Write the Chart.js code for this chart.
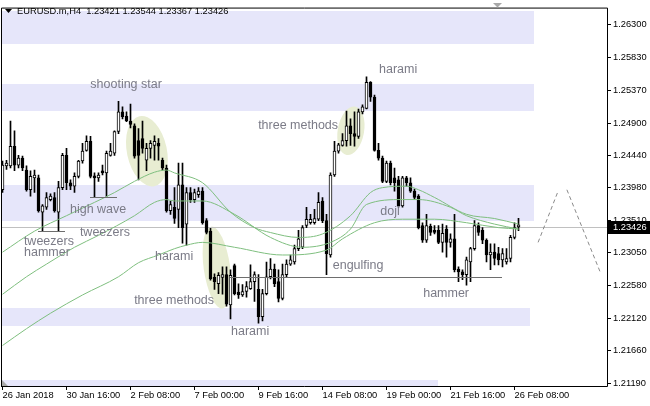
<!DOCTYPE html>
<html><head><meta charset="utf-8">
<script src="https://cdn.jsdelivr.net/npm/chart.js@4.4.0/dist/chart.umd.min.js"></script>
<style>html,body{margin:0;padding:0;background:#fff}canvas{display:block}</style>
</head><body>
<canvas id="c" width="650" height="406"></canvas>
<script>
const symbolTitle = "EURUSD.m,H4";
const tickLabels = ["26 Jan 2018","30 Jan 16:00","2 Feb 08:00","7 Feb 00:00","9 Feb 16:00","14 Feb 08:00","19 Feb 00:00","21 Feb 16:00","26 Feb 08:00"];
const priceTicks = [1.2119,1.2166,1.2212,1.2258,1.2305,1.2351,1.2398,1.2444,1.2490,1.2537,1.2583,1.2630];

const open = [1.2395,1.2429,1.2429,1.2457,1.2430,1.2440,1.2423,1.2395,1.2412,1.2412,
1.2363,1.2370,1.2381,1.2384,1.2363,1.2398,1.2444,1.2405,1.2400,1.2414,
1.2436,1.2451,1.2464,1.2414,1.2412,1.2422,1.2419,1.2444,1.2447,1.2478,
1.2506,1.2500,1.2493,1.2486,1.2465,1.2468,1.2437,1.2454,1.2458,1.2461,
1.2437,1.2426,1.2365,1.2370,1.2367,1.2402,1.2346,1.2391,1.2381,1.2388,
1.2393,1.2351,1.2336,1.2270,1.2261,1.2270,1.2274,1.2231,1.2287,1.2249,
1.2245,1.2250,1.2254,1.2264,1.2253,1.2214,1.2247,1.2271,1.2282,1.2264,
1.2240,1.2274,1.2289,1.2292,1.2311,1.2313,1.2344,1.2348,1.2348,1.2353,
1.2379,1.2351,1.2302,1.2416,1.2450,1.2458,1.2465,1.2486,1.2475,1.2471,
1.2506,1.2511,1.2548,1.2527,1.2451,1.2440,1.2407,1.2433,1.2412,1.2409,
1.2372,1.2412,1.2405,1.2393,1.2386,1.2344,1.2323,1.2343,1.2337,1.2337,
1.2320,1.2339,1.2320,1.2325,1.2282,1.2278,1.2274,1.2292,1.2311,1.2344,
1.2337,1.2323,1.2302,1.2306,1.2304,1.2295,1.2292,1.2297,1.2327,1.23421];
const high = [1.2436,1.2437,1.2493,1.2479,1.2444,1.2443,1.2429,1.2422,1.2423,1.2416,
1.2374,1.2391,1.2389,1.2391,1.2407,1.2447,1.2454,1.2409,1.2419,1.2437,
1.2461,1.2472,1.2471,1.2419,1.2419,1.2430,1.2450,1.2461,1.2479,1.2521,
1.2513,1.2506,1.2517,1.2489,1.2482,1.2493,1.2461,1.2465,1.2472,1.2468,
1.2440,1.2430,1.2379,1.2398,1.2433,1.2433,1.2398,1.2398,1.2396,1.2398,
1.2398,1.2354,1.2340,1.2275,1.2277,1.2285,1.2285,1.2281,1.2289,1.2261,
1.2260,1.2264,1.2288,1.2278,1.2274,1.2253,1.2292,1.2297,1.2289,1.2281,
1.2289,1.2295,1.2302,1.2316,1.2337,1.2344,1.2370,1.2360,1.2367,1.2391,
1.2384,1.2360,1.2419,1.2464,1.2461,1.2475,1.2507,1.2496,1.2506,1.2510,
1.2516,1.2556,1.2549,1.2530,1.2461,1.2443,1.2436,1.2436,1.2426,1.2414,
1.2414,1.2414,1.2412,1.2396,1.2388,1.2348,1.2360,1.2346,1.2344,1.2344,
1.2346,1.2344,1.2332,1.2360,1.2285,1.2281,1.2299,1.2313,1.2351,1.2348,
1.2341,1.2325,1.2318,1.2318,1.2313,1.2311,1.2311,1.2330,1.2348,1.23544];
const low = [1.2391,1.2424,1.2426,1.2422,1.2426,1.2422,1.2393,1.2386,1.2391,1.2363,
1.2336,1.2367,1.2379,1.2363,1.2336,1.2395,1.2395,1.2395,1.2391,1.2412,
1.2433,1.2450,1.2412,1.2384,1.2407,1.2416,1.2384,1.2443,1.2444,1.2475,
1.2496,1.2492,1.2483,1.2440,1.2409,1.2447,1.2422,1.2440,1.2437,1.2437,
1.2423,1.2363,1.2360,1.2347,1.2341,1.2319,1.2316,1.2377,1.2377,1.2384,
1.2346,1.2332,1.2266,1.2253,1.2247,1.2246,1.2229,1.2211,1.2245,1.2240,
1.2243,1.2242,1.2253,1.2236,1.2205,1.2208,1.2245,1.2268,1.2257,1.2235,
1.2238,1.2271,1.2287,1.2289,1.2308,1.2311,1.2341,1.2346,1.2346,1.2351,
1.2348,1.2274,1.2299,1.2414,1.2447,1.2457,1.2457,1.2458,1.2457,1.2468,
1.2503,1.2510,1.2521,1.2450,1.2437,1.2405,1.2405,1.2402,1.2393,1.2370,
1.2370,1.2400,1.2391,1.2381,1.2339,1.2320,1.2320,1.2330,1.2332,1.2318,
1.2306,1.2299,1.2313,1.2278,1.2264,1.2267,1.2259,1.2264,1.2309,1.2330,
1.2318,1.2292,1.2281,1.2288,1.2288,1.2285,1.2289,1.2292,1.2325,1.23367];
const close = [1.2430,1.2433,1.2457,1.2430,1.2440,1.2426,1.2395,1.2414,1.2416,1.2365,
1.2372,1.2384,1.2386,1.2365,1.2398,1.2444,1.2405,1.2400,1.2414,1.2436,
1.2450,1.2464,1.2414,1.2412,1.2416,1.2419,1.2447,1.2450,1.2478,1.2506,
1.2499,1.2493,1.2488,1.2443,1.2444,1.2454,1.2454,1.2461,1.2464,1.2457,
1.2426,1.2365,1.2374,1.2354,1.2402,1.2341,1.2391,1.2381,1.2391,1.2393,
1.2348,1.2334,1.2268,1.2264,1.2273,1.2274,1.2232,1.2273,1.2247,1.2245,
1.2250,1.2257,1.2264,1.2274,1.2214,1.2247,1.2271,1.2282,1.2261,1.2240,
1.2274,1.2289,1.2295,1.2311,1.2325,1.2341,1.2353,1.2353,1.2354,1.2377,
1.2351,1.2304,1.2416,1.2450,1.2459,1.2465,1.2486,1.2475,1.2471,1.2506,
1.2513,1.2548,1.2527,1.2451,1.2440,1.2407,1.2433,1.2405,1.2405,1.2372,
1.2412,1.2405,1.2393,1.2384,1.2341,1.2323,1.2344,1.2334,1.2334,1.2320,
1.2333,1.2320,1.2325,1.2281,1.2278,1.2274,1.2295,1.2311,1.2344,1.2334,
1.2323,1.2302,1.2306,1.2297,1.2295,1.2304,1.2297,1.2327,1.2341,1.23426];

// moving averages: [bar index, price]
const maFast = [[0,1.2306],[8,1.2336],[16,1.2358],[23,1.2377],[28,1.2391],[33,1.2407],[38,1.2420],[41,1.2423],[43,1.2419],[50,1.2405],[57,1.2363],[63,1.2341],[67,1.2334],[74,1.2327],[80,1.2332],[87,1.2358],[92,1.2391],[95,1.2398],[101,1.2400],[104,1.2395],[108,1.2384],[116,1.2360],[123,1.2354],[129,1.2346]];
const maMid = [[0,1.2246],[6,1.2271],[11,1.2289],[18,1.2313],[24,1.2330],[33,1.2358],[38,1.2377],[41,1.2381],[43,1.2379],[50,1.2379],[58,1.2360],[67,1.2327],[75,1.2313],[82,1.2320],[87,1.2339],[91,1.2374],[100,1.2381],[104,1.2381],[112,1.2370],[116,1.2358],[123,1.2346],[129,1.2339]];
const maSlow = [[0,1.2173],[6,1.2197],[12,1.2219],[20,1.2245],[29,1.2271],[34,1.2291],[39,1.2302],[43,1.2311],[46,1.2316],[50,1.2320],[58,1.2313],[70,1.2302],[81,1.2309],[85,1.2325],[93,1.2348],[100,1.2353],[108,1.2353],[116,1.2348],[124,1.2341],[129,1.2339]];

// chart objects in data coordinates (bar index, price)
const zones = [
  {from:-1, to:132.9, top:1.2650, bottom:1.2603},
  {from:-1, to:132.9, top:1.2545, bottom:1.2507},
  {from:-1, to:132.9, top:1.2402, bottom:1.2351},
  {from:-1, to:131.9, top:1.2227, bottom:1.2201},
  {from:-1, to:108.9, top:1.2124, bottom:1.2100}
];
const highlights = [
  {x:36.1, y:1.2450, rx:5.0, ry:0.0051, rot:-12},
  {x:53.6, y:1.2284, rx:3.3, ry:0.0059, rot:-8},
  {x:87.1, y:1.2479, rx:3.3, ry:0.0035, rot:10}
];
const levels = [
  {from:8.9, to:15.6, y:1.2336},
  {from:21.9, to:28.6, y:1.2384},
  {from:56.9, to:124.9, y:1.2270}
];
const projections = [
  {x0:133.9, y0:1.2320, x1:138.9, y1:1.2393},
  {x0:141.1, y0:1.2395, x1:149.4, y1:1.2278}
];
const patternLabels = [
  {text:'shooting star', x:30.9, y:1.2544},
  {text:'high wave', x:23.9, y:1.2366},
  {text:'tweezers', x:25.6, y:1.2333},
  {text:'tweezers', x:11.6, y:1.2320},
  {text:'hammer', x:11.1, y:1.2304},
  {text:'harami', x:42.9, y:1.2299},
  {text:'three methods', x:42.9, y:1.2236},
  {text:'harami', x:61.9, y:1.2191},
  {text:'three methods', x:73.9, y:1.2485},
  {text:'harami', x:98.9, y:1.2565},
  {text:'doji', x:96.9, y:1.2363},
  {text:'engulfing', x:88.9, y:1.2285},
  {text:'hammer', x:110.9, y:1.2245}
];

const FONT = '"Liberation Sans", Arial, sans-serif';
const last = close.length - 1;
const idx = open.map((_, i) => i);

const objects = {
  id: 'objects',
  beforeDatasetsDraw(chart) {
    const {ctx, chartArea: a, scales: {x, y}} = chart;
    ctx.save();
    ctx.beginPath(); ctx.rect(a.left, a.top, a.right - a.left, a.bottom - a.top); ctx.clip();
    ctx.fillStyle = '#e6e6fa';
    zones.forEach(z => {
      const x0 = Math.round(x.getPixelForValue(z.from)), x1 = Math.round(x.getPixelForValue(z.to));
      const y0 = Math.round(y.getPixelForValue(z.top)), y1 = Math.round(y.getPixelForValue(z.bottom));
      ctx.fillRect(x0, y0, x1 - x0, y1 - y0);
    });
    const pxBar = x.getPixelForValue(1) - x.getPixelForValue(0);
    ctx.fillStyle = '#e8edd2';
    highlights.forEach(e => {
      const cx = x.getPixelForValue(e.x), cy = y.getPixelForValue(e.y);
      const ry = Math.abs(y.getPixelForValue(e.y + e.ry) - cy);
      ctx.beginPath();
      ctx.ellipse(cx, cy, e.rx * pxBar, ry, e.rot * Math.PI / 180, 0, Math.PI * 2);
      ctx.fill();
    });
    const py = Math.round(y.getPixelForValue(close[last])) + 0.5;
    ctx.strokeStyle = '#c0c0c0'; ctx.lineWidth = 1;
    ctx.beginPath(); ctx.moveTo(a.left, py); ctx.lineTo(a.right, py); ctx.stroke();
    ctx.restore();
  },
  afterDatasetsDraw(chart) {
    const {ctx, chartArea: a, scales: {x, y}} = chart;
    ctx.save();
    ctx.beginPath(); ctx.rect(a.left, a.top, a.right - a.left, a.bottom - a.top); ctx.clip();
    ctx.strokeStyle = '#6e6e6e'; ctx.lineWidth = 1;
    levels.forEach(l => {
      const py = Math.round(y.getPixelForValue(l.y)) + 0.5;
      ctx.beginPath(); ctx.moveTo(Math.round(x.getPixelForValue(l.from)), py);
      ctx.lineTo(Math.round(x.getPixelForValue(l.to)), py); ctx.stroke();
    });
    ctx.strokeStyle = '#8a8a8a'; ctx.setLineDash([4, 3]);
    projections.forEach(p => {
      ctx.beginPath(); ctx.moveTo(x.getPixelForValue(p.x0), y.getPixelForValue(p.y0));
      ctx.lineTo(x.getPixelForValue(p.x1), y.getPixelForValue(p.y1)); ctx.stroke();
    });
    ctx.setLineDash([]);
    ctx.fillStyle = '#7b7b87'; ctx.font = '12.5px ' + FONT;
    ctx.textAlign = 'center'; ctx.textBaseline = 'middle';
    patternLabels.forEach(t => ctx.fillText(t.text, x.getPixelForValue(t.x), y.getPixelForValue(t.y) - 1));
    ctx.restore();
  },
  afterDraw(chart) {
    const {ctx, chartArea: a, scales: {y}} = chart;
    ctx.save();
    ctx.strokeStyle = '#000'; ctx.lineWidth = 1;
    ctx.beginPath();
    ctx.moveTo(a.left + 0.5, a.bottom + 1); ctx.lineTo(a.left + 0.5, a.top + 0.5);
    ctx.lineTo(a.right + 0.5, a.top + 0.5); ctx.lineTo(a.right + 0.5, a.bottom + 0.5);
    ctx.lineTo(a.left, a.bottom + 0.5);
    ctx.stroke();
    // scroll markers
    ctx.fillStyle = '#a8a8a8';
    ctx.beginPath(); ctx.moveTo(493, 3); ctx.lineTo(502, 3); ctx.lineTo(497.5, 7.5); ctx.closePath(); ctx.fill();
    ctx.beginPath(); ctx.moveTo(2, 380); ctx.lineTo(2, 386); ctx.lineTo(8, 386); ctx.closePath(); ctx.fill();
    // title
    ctx.fillStyle = '#000';
    ctx.beginPath(); ctx.moveTo(5, 9); ctx.lineTo(12, 9); ctx.lineTo(8.5, 13); ctx.closePath(); ctx.fill();
    ctx.font = '9.3px ' + FONT; ctx.textAlign = 'left'; ctx.textBaseline = 'alphabetic';
    ctx.fillText(symbolTitle + '  ' + [open[last], high[last], low[last], close[last]].map(v => v.toFixed(5)).join(' '), 17, 14);
    // current price box
    const py = Math.round(y.getPixelForValue(close[last]));
    ctx.fillStyle = '#000'; ctx.fillRect(a.right + 1, py - 6, 650 - a.right - 1, 13);
    ctx.fillStyle = '#fff'; ctx.textBaseline = 'middle';
    ctx.fillText(close[last].toFixed(5), a.right + 6, py + 0.5);
    ctx.restore();
  }
};

new Chart(document.getElementById('c'), {
  type: 'bar',
  data: {
    datasets: [
      {type: 'line', data: maFast.map(([x, y]) => ({x, y})), borderColor: '#7fbf7f', borderWidth: 1, pointRadius: 0, cubicInterpolationMode: 'monotone', order: 0},
      {type: 'line', data: maMid.map(([x, y]) => ({x, y})), borderColor: '#7fbf7f', borderWidth: 1, pointRadius: 0, cubicInterpolationMode: 'monotone', order: 0},
      {type: 'line', data: maSlow.map(([x, y]) => ({x, y})), borderColor: '#7fbf7f', borderWidth: 1, pointRadius: 0, cubicInterpolationMode: 'monotone', order: 0},
      {data: idx.map(i => ({x: i, y: [open[i], close[i]]})), barThickness: 3, grouped: false, minBarLength: 2,
       backgroundColor: c => (close[c.dataIndex] >= open[c.dataIndex] ? '#ffffff' : '#000000'),
       borderColor: '#000', borderWidth: 1, borderSkipped: false, order: 1},
      {data: idx.map(i => ({x: i, y: [low[i], high[i]]})), barThickness: 1, grouped: false,
       backgroundColor: '#000', borderWidth: 0, order: 2}
    ]
  },
  options: {
    responsive: false, animation: false, devicePixelRatio: 1,
    layout: {padding: {left: 1, top: 2, right: 0, bottom: 0}},
    plugins: {legend: {display: false}, tooltip: {enabled: false}},
    scales: {
      x: {
        type: 'linear', min: -0.375, max: 151.125, bounds: 'data', offset: false, position: 'bottom',
        grid: {display: true, drawOnChartArea: false, drawTicks: true, tickLength: 4, color: '#000', offset: false},
        border: {display: false},
        afterBuildTicks: s => { s.ticks = tickLabels.map((_, k) => ({value: k * 16})); },
        afterFit: s => { s.height = 20; },
        ticks: {autoSkip: false, maxRotation: 0, minRotation: 0, align: 'start', padding: 0, color: '#000',
                font: {family: FONT, size: 9.3}, callback: v => tickLabels[Math.round(v / 16)] || ''}
      },
      y: {
        type: 'linear', position: 'right', min: 1.21153, max: 1.26546, bounds: 'data',
        grid: {display: true, drawOnChartArea: false, drawTicks: true, tickLength: 4, color: '#000'},
        border: {display: false},
        afterBuildTicks: s => { s.ticks = priceTicks.map(v => ({value: v})); },
        afterFit: s => { s.width = 43; },
        ticks: {padding: 2, color: '#000', font: {family: FONT, size: 9.3}, callback: v => Number(v).toFixed(5)}
      }
    }
  },
  plugins: [objects]
});
</script>
</body></html>
